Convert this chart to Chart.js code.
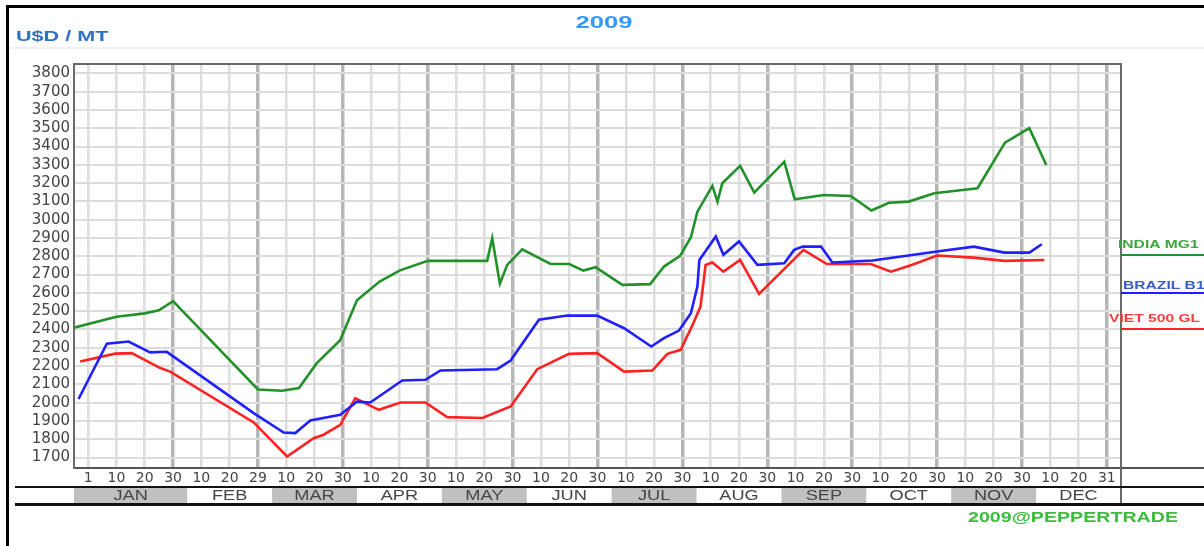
<!DOCTYPE html>
<html>
<head>
<meta charset="utf-8">
<script src="https://cdn.jsdelivr.net/npm/chart.js@4/dist/chart.umd.min.js"></script>
<style>
html,body{margin:0;padding:0;background:#fff;}
canvas{display:block;}
</style>
</head>
<body>
<canvas id="c" width="1204" height="546"></canvas>
<script>
// ---- data (x = position on the slot axis: 0 = JAN 1, 1 = JAN 10, ... 36 = DEC 31) ----
const tickLabels = ['1','10','20','30','10','20','29','10','20','30','10','20','30','10','20','30','10','20','30','10','20','30','10','20','30','10','20','30','10','20','30','10','20','30','10','20','31'];
const months = ['JAN','FEB','MAR','APR','MAY','JUN','JUL','AUG','SEP','OCT','NOV','DEC'];
const monthSlots = [4,3,3,3,3,3,3,3,3,3,3,3];
const yTicks = [1700,1800,1900,2000,2100,2200,2300,2400,2500,2600,2700,2800,2900,3000,3100,3200,3300,3400,3500,3600,3700,3800];

const indiaX = [-0.5,1,2,2.5,3,6,6.85,7.45,8.08,8.9,9.5,10.3,11,12,14.1,14.28,14.55,14.81,15.34,16.34,17,17.5,17.93,18.88,19.86,20.35,20.92,21.3,21.53,22.06,22.24,22.41,23.04,23.54,24.6,24.97,26,26.95,27.68,28.3,29,29.9,31.43,32.4,33.26,33.86];
const indiaY = [2410,2470,2488,2505,2555,2072,2065,2080,2216,2340,2560,2662,2722,2775,2775,2899,2650,2753,2838,2758,2758,2722,2740,2644,2648,2744,2802,2904,3044,3185,3099,3199,3294,3148,3317,3112,3135,3130,3050,3093,3099,3145,3172,3421,3500,3299];

const brazilX = [-0.34,0.66,1.43,2.19,2.78,5.85,6.91,7.32,7.85,8.91,9.5,9.97,11.1,11.92,12.45,14.45,14.93,15.93,16.93,17.99,18.94,19.9,20.35,20.88,21.3,21.53,21.6,22.18,22.45,23.0,23.65,24.6,24.95,25.25,25.9,26.3,27.72,30.0,31.3,32.38,33.26,33.7];
const brazilY = [2020,2322,2334,2275,2278,1943,1837,1834,1903,1934,2006,2001,2121,2125,2176,2183,2230,2453,2476,2476,2407,2307,2353,2394,2489,2635,2780,2908,2808,2881,2753,2762,2835,2853,2853,2766,2777,2826,2853,2820,2820,2866];

const vietX = [-0.28,0.96,1.54,2.55,2.9,5.85,7.03,7.97,8.32,8.91,9.44,10.27,11.04,11.92,12.69,13.93,14.93,15.87,16.99,17.99,18.94,19.94,20.47,20.94,21.36,21.64,21.82,22.06,22.45,23.04,23.71,25.28,26.1,27.66,28.37,29.1,30.0,31.3,32.38,33.79];
const vietY = [2225,2268,2271,2189,2170,1892,1706,1806,1825,1879,2025,1961,2001,2001,1921,1916,1979,2183,2267,2271,2170,2176,2267,2289,2425,2525,2753,2766,2716,2780,2595,2835,2758,2758,2716,2753,2804,2793,2775,2780];

const seriesNames = ['INDIA MG1','BRAZIL B1','VIET 500 GL'];
const seriesColors = ['#22912a','#1f1fff','#ff2222'];
const legendTextColors = ['#3aa83a','#3a5cc4','#ff3b3b'];

function zip(xs, ys){ return xs.map((x,i)=>({x:x, y:ys[i]})); }

function stretchText(ctx, text, x, y, sx, align){
  ctx.save();
  const w = ctx.measureText(text).width * sx;
  let x0 = x;
  if (align === 'center') x0 = x - w/2;
  else if (align === 'right') x0 = x - w;
  ctx.translate(x0, y);
  ctx.scale(sx, 1);
  ctx.textAlign = 'left';
  ctx.fillText(text, 0, 0);
  ctx.restore();
}

const decor = {
  id: 'decor',
  afterDraw(chart){
    const ctx = chart.ctx;
    const a = chart.chartArea;
    const xs = chart.scales.x;
    ctx.save();
    // outer frame
    ctx.fillStyle = '#000';
    ctx.fillRect(6, 5, 1198, 3);
    ctx.fillRect(6, 5, 3, 541);
    // faint separator under header
    ctx.fillStyle = '#f1f1f1';
    ctx.fillRect(10, 47, 1194, 2);
    // header texts
    ctx.textBaseline = 'middle';
    ctx.font = 'bold 16px "Liberation Sans", Arial, sans-serif';
    ctx.fillStyle = '#3399ff';
    stretchText(ctx, '2009', 604, 24, 1.6, 'center');
    ctx.font = 'bold 15px "Liberation Sans", Arial, sans-serif';
    ctx.fillStyle = '#2f73c6';
    stretchText(ctx, 'U$D / MT', 16, 37, 1.44, 'left');

    // plot top + right border
    ctx.fillStyle = '#6a6a6a';
    ctx.fillRect(a.left - 1, a.top - 1, a.right - a.left + 2, 2);
    ctx.fillRect(a.right - 1, a.top - 1, 2, 505 - a.top);
    // axis line extension to the right
    ctx.fillStyle = '#555';
    ctx.fillRect(a.right, a.bottom - 1, 1204 - a.right, 2);

    // month band
    const bandTop = 488, bandBot = 503;
    let slot = -0.5;
    ctx.font = '14px "Liberation Sans", Arial, sans-serif';
    months.forEach((m, i) => {
      const x0 = xs.getPixelForValue(slot);
      const x1 = xs.getPixelForValue(slot + monthSlots[i]);
      if (i % 2 === 0){
        ctx.fillStyle = '#c0c0c0';
        ctx.fillRect(x0, bandTop, x1 - x0, bandBot - bandTop);
      }
      ctx.fillStyle = '#454545';
      stretchText(ctx, m, (x0 + x1)/2, (bandTop + bandBot)/2 + 1, 1.3, 'center');
      slot += monthSlots[i];
    });
    // band lines
    ctx.fillStyle = '#111';
    ctx.fillRect(15, 486, 1189, 2);
    ctx.fillRect(15, 503, 1189, 3);

    // right-side series labels
    const labY = [245, 286, 319];
    const lineY = [255, 293, 329];
    const labX = [1118, 1123, 1109];
    ctx.font = 'bold 11px "Liberation Sans", Arial, sans-serif';
    seriesNames.forEach((n, i) => {
      ctx.fillStyle = legendTextColors[i];
      stretchText(ctx, n, labX[i], labY[i], 1.42, 'left');
      ctx.fillStyle = seriesColors[i];
      ctx.fillRect(a.right, lineY[i] - 1, 1204 - a.right, 2);
    });

    // watermark
    ctx.font = 'bold 15px "Liberation Sans", Arial, sans-serif';
    ctx.fillStyle = '#3cbc3c';
    const wm = '2009@PEPPERTRADE';
    const sx = 210 / ctx.measureText(wm).width;
    stretchText(ctx, wm, 968, 518, sx, 'left');
    ctx.restore();
  }
};

const isMonthEnd = (i) => i > 0 && i % 3 === 0;

new Chart(document.getElementById('c'), {
  type: 'line',
  data: {
    datasets: [
      { label: seriesNames[0], data: zip(indiaX, indiaY), borderColor: seriesColors[0] },
      { label: seriesNames[1], data: zip(brazilX, brazilY), borderColor: seriesColors[1] },
      { label: seriesNames[2], data: zip(vietX, vietY), borderColor: seriesColors[2] }
    ].map(d => Object.assign(d, { borderWidth: 2.6, pointRadius: 0, tension: 0, fill: false }))
  },
  options: {
    responsive: false,
    animation: false,
    devicePixelRatio: 1,
    layout: { padding: { top: 64, right: 83, left: 0, bottom: 0 } },
    plugins: { legend: { display: false }, title: { display: false }, tooltip: { enabled: false } },
    scales: {
      x: {
        type: 'linear',
        min: -0.5, max: 36.5,
        afterBuildTicks: (s) => { s.ticks = tickLabels.map((_, i) => ({ value: i })); },
        afterFit: (s) => { s.height = 78; },
        ticks: {
          autoSkip: false, maxRotation: 0, padding: 2,
          color: '#444',
          font: { family: '"DejaVu Sans", sans-serif', size: 14 },
          callback: (v, i) => tickLabels[i]
        },
        grid: {
          drawTicks: false,
          color: (c) => isMonthEnd(c.index) ? '#b6b6b6' : '#dedede',
          lineWidth: (c) => isMonthEnd(c.index) ? 3.5 : 2.5
        },
        border: { display: true, color: '#555', width: 2 }
      },
      y: {
        type: 'linear',
        min: 1643, max: 3851,
        afterBuildTicks: (s) => { s.ticks = yTicks.map(v => ({ value: v })); },
        afterFit: (s) => { s.width = 74; },
        ticks: {
          autoSkip: false,
          padding: 4,
          color: '#444',
          font: { family: '"DejaVu Sans", sans-serif', size: 15, lineHeight: 1 },
          callback: (v) => String(v)
        },
        grid: { drawTicks: false, color: '#dcdcdc', lineWidth: 2 },
        border: { display: true, color: '#6a6a6a', width: 2 }
      }
    }
  },
  plugins: [decor]
});
</script>
</body>
</html>
